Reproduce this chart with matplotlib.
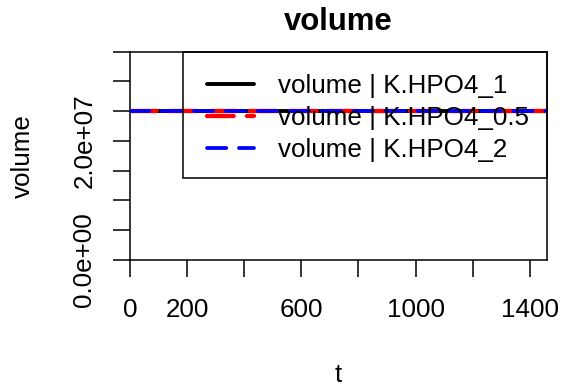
import matplotlib
matplotlib.use("Agg")
import matplotlib.pyplot as plt
from matplotlib.patches import Rectangle

plt.rcParams['font.family'] = ['Liberation Sans', 'DejaVu Sans']
plt.rcParams['lines.scale_dashes'] = False

# ---- data ----
t = [0, 1460]
vol_1 = [2.5e7, 2.5e7]
vol_05 = [2.5e7, 2.5e7]
vol_2 = [2.5e7, 2.5e7]
series_labels = ["volume | K.HPO4_1", "volume | K.HPO4_0.5", "volume | K.HPO4_2"]
x_ticks = [0, 200, 400, 600, 800, 1000, 1200, 1400]
x_ticklabels = ["0", "200", "", "600", "", "1000", "", "1400"]
y_ticks = [0, 5e6, 1e7, 1.5e7, 2e7, 2.5e7, 3e7, 3.5e7]
y_ticklabels = ["0.0e+00", "", "", "", "2.0e+07", "", "", ""]
xlim = (0, 1460)
ylim = (0, 3.5e7)

W, H = 562, 388
fig = plt.figure(figsize=(W / 100, H / 100), dpi=100)
L, R, T, B = 130, 547, 51.5, 260
ax = fig.add_axes([L / W, (H - B) / H, (R - L) / W, (B - T) / H])

base = 18.72
lw_axis = 1.1

ax.plot(t, vol_1, color='black', lw=2.8, solid_capstyle='round', label=series_labels[0], zorder=2)
ax.plot(t, vol_05, color='red', lw=3.1, linestyle=(0, (19.2, 9.6)), dash_capstyle='round',
        label=series_labels[1], zorder=3)
ax.plot(t, vol_2, color='blue', lw=2.7, linestyle=(0, (13.9, 9.1)), dash_capstyle='round',
        label=series_labels[2], zorder=4)

ax.set_xlim(*xlim)
ax.set_ylim(*ylim)
ax.set_xticks(x_ticks)
ax.set_xticklabels(x_ticklabels)
ax.set_yticks(y_ticks)
ax.set_yticklabels(y_ticklabels)

for s in ax.spines.values():
    s.set_linewidth(lw_axis)
    s.set_color('black')

ax.tick_params(axis='both', direction='out', length=12.2, width=lw_axis, labelsize=base, color='black')
ax.tick_params(axis='x', pad=15)
ax.tick_params(axis='y', pad=12)
for lab in ax.get_yticklabels():
    lab.set_rotation(90)
    lab.set_va('center')
    lab.set_ha('right')

ax.set_title('volume', fontsize=base * 1.2, fontweight='bold', pad=15.8)
ax.set_xlabel('t', fontsize=base)
ax.xaxis.set_label_coords(0.5, -0.4926)
ax.set_ylabel('volume', fontsize=base)
ax.yaxis.set_label_coords(-0.229, 0.5)

# legend
ph = B - T
pw = R - L
leg = ax.legend(loc='upper left', bbox_to_anchor=((207 - L) / pw, (B - 74) / ph),
                frameon=False, borderpad=0, borderaxespad=0, fontsize=base,
                handlelength=1.81, handletextpad=0.92, labelspacing=0.3)
leg.set_zorder(6)
box = Rectangle(((182.7 - L) / pw, (B - 178) / ph), 1 - (182.7 - L) / pw, (178 - 51.7) / ph,
                transform=ax.transAxes, fill=False, edgecolor='black', lw=lw_axis, zorder=5,
                clip_on=False)
ax.add_patch(box)

fig.savefig('out.png', dpi=100)
